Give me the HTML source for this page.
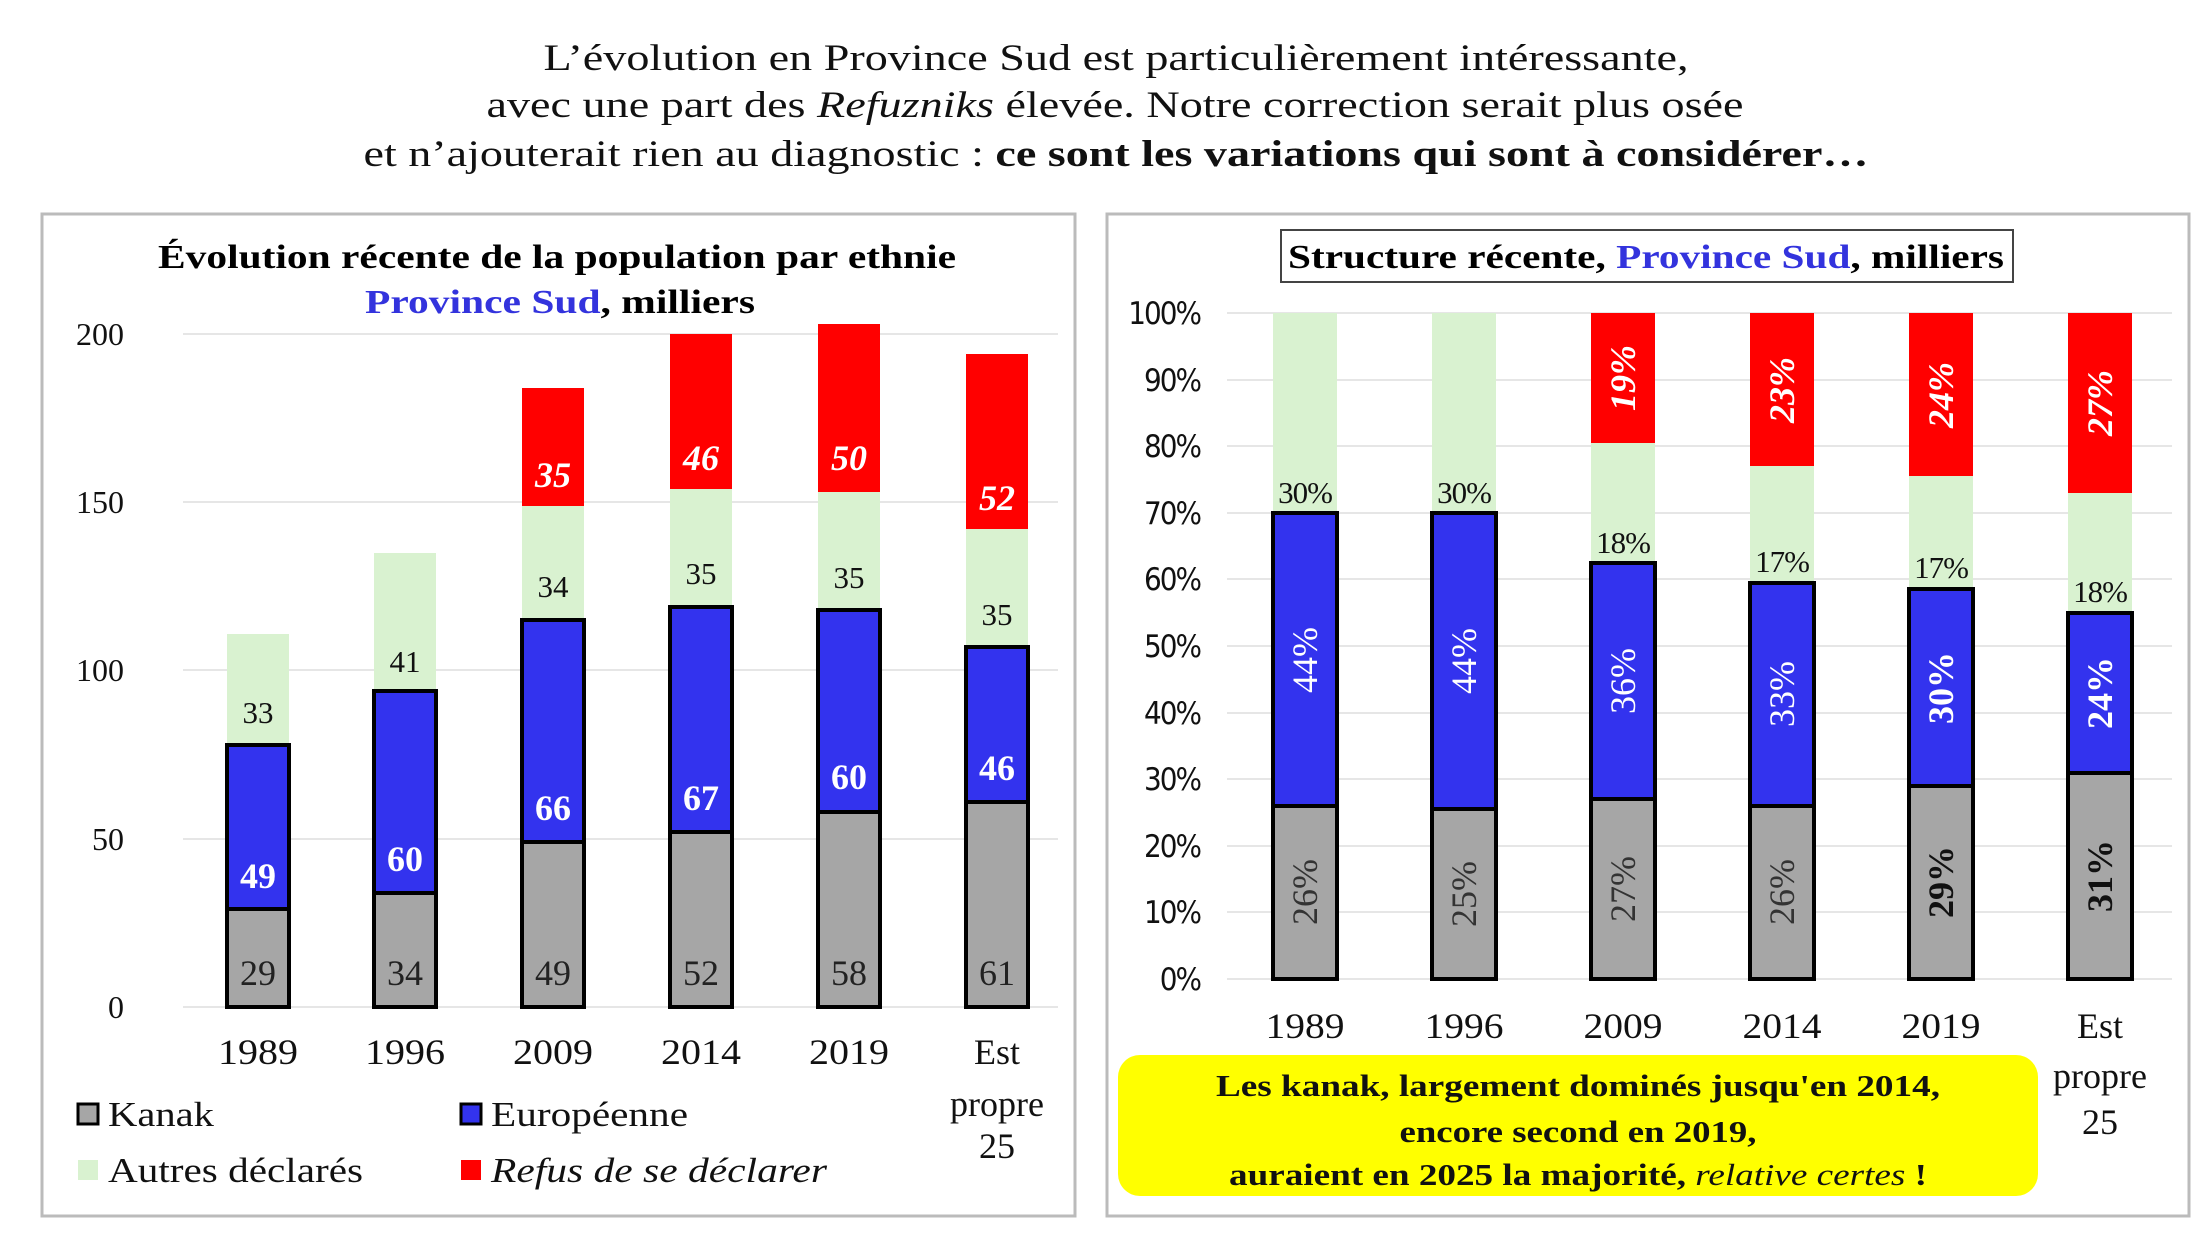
<!DOCTYPE html>
<html><head><meta charset="utf-8"><style>
html,body{margin:0;padding:0;background:#fff;}
svg{display:block;font-family:"Liberation Serif",serif;}
</style></head><body>
<svg width="2200" height="1236" viewBox="0 0 2200 1236" xmlns="http://www.w3.org/2000/svg">
<!-- header text -->
<g font-size="37" text-anchor="middle" fill="#111">
<text x="1116" y="70" textLength="1145" lengthAdjust="spacingAndGlyphs">L’évolution en Province Sud est particulièrement intéressante,</text>
<text x="1115" y="117" textLength="1257" lengthAdjust="spacingAndGlyphs">avec une part des <tspan font-style="italic">Refuzniks</tspan> élevée. Notre correction serait plus osée</text>
<text x="1116" y="166" textLength="1505" lengthAdjust="spacingAndGlyphs">et n’ajouterait rien au diagnostic : <tspan font-weight="bold">ce sont les variations qui sont à considérer…</tspan></text>
</g>
<!-- panels -->
<rect x="42" y="214" width="1033" height="1002" fill="#fff" stroke="#bbb" stroke-width="3"/>
<rect x="1107" y="214" width="1082" height="1002" fill="#fff" stroke="#bbb" stroke-width="3"/>

<!-- LEFT CHART -->
<g font-weight="bold" font-size="34" text-anchor="middle">
<text x="557" y="268" textLength="798" lengthAdjust="spacingAndGlyphs">Évolution récente de la population par ethnie</text>
<text x="560" y="313" textLength="390" lengthAdjust="spacingAndGlyphs"><tspan fill="#3333dd">Province Sud</tspan>, milliers</text>
</g>
<g stroke="#e6e6e6" stroke-width="2">
<line x1="183" x2="1058" y1="1007" y2="1007"/>
<line x1="183" x2="1058" y1="839" y2="839"/>
<line x1="183" x2="1058" y1="670" y2="670"/>
<line x1="183" x2="1058" y1="502" y2="502"/>
<line x1="183" x2="1058" y1="334" y2="334"/>
</g>
<g font-size="32" text-anchor="end" fill="#111">
<text x="124" y="1018">0</text>
<text x="124" y="850">50</text>
<text x="124" y="681">100</text>
<text x="124" y="513">150</text>
<text x="124" y="345">200</text>
</g>
<!-- bars -->
<g stroke="#000" stroke-width="4">
<rect x="227" y="909" width="62" height="98" fill="#a6a6a6"/>
<rect x="227" y="745" width="62" height="164" fill="#3333ee"/>
<rect x="374" y="893" width="62" height="114" fill="#a6a6a6"/>
<rect x="374" y="691" width="62" height="202" fill="#3333ee"/>
<rect x="522" y="842" width="62" height="165" fill="#a6a6a6"/>
<rect x="522" y="620" width="62" height="222" fill="#3333ee"/>
<rect x="670" y="832" width="62" height="175" fill="#a6a6a6"/>
<rect x="670" y="607" width="62" height="225" fill="#3333ee"/>
<rect x="818" y="812" width="62" height="195" fill="#a6a6a6"/>
<rect x="818" y="610" width="62" height="202" fill="#3333ee"/>
<rect x="966" y="802" width="62" height="205" fill="#a6a6a6"/>
<rect x="966" y="647" width="62" height="155" fill="#3333ee"/>
</g>
<g fill="#d9f2d0">
<rect x="227" y="634" width="62" height="109"/>
<rect x="374" y="553" width="62" height="136"/>
<rect x="522" y="506" width="62" height="112"/>
<rect x="670" y="489" width="62" height="116"/>
<rect x="818" y="492" width="62" height="116"/>
<rect x="966" y="529" width="62" height="116"/>
</g>
<g fill="#ff0000">
<rect x="522" y="388" width="62" height="118"/>
<rect x="670" y="334" width="62" height="155"/>
<rect x="818" y="324" width="62" height="168"/>
<rect x="966" y="354" width="62" height="175"/>
</g>
<g font-size="36" text-anchor="middle">
<g fill="#222">
<text x="258" y="985">29</text><text x="405" y="985">34</text><text x="553" y="985">49</text>
<text x="701" y="985">52</text><text x="849" y="985">58</text><text x="997" y="985">61</text>
</g>
<g fill="#fff" font-weight="bold">
<text x="258" y="888">49</text><text x="405" y="871">60</text><text x="553" y="820">66</text>
<text x="701" y="810">67</text><text x="849" y="789">60</text><text x="997" y="780">46</text>
</g>
<g fill="#111" font-size="31">
<text x="258" y="723">33</text><text x="405" y="672">41</text><text x="553" y="597">34</text>
<text x="701" y="584">35</text><text x="849" y="588">35</text><text x="997" y="625">35</text>
</g>
<g fill="#fff" font-weight="bold" font-style="italic">
<text x="553" y="487">35</text><text x="701" y="470">46</text><text x="849" y="470">50</text><text x="997" y="510">52</text>
</g>
</g>
<g font-size="36" text-anchor="middle" fill="#111">
<text x="258" y="1064" textLength="80" lengthAdjust="spacingAndGlyphs">1989</text><text x="405" y="1064" textLength="80" lengthAdjust="spacingAndGlyphs">1996</text><text x="553" y="1064" textLength="80" lengthAdjust="spacingAndGlyphs">2009</text>
<text x="701" y="1064" textLength="80" lengthAdjust="spacingAndGlyphs">2014</text><text x="849" y="1064" textLength="80" lengthAdjust="spacingAndGlyphs">2019</text>
<text x="997" y="1064">Est</text><text x="997" y="1116">propre</text><text x="997" y="1158">25</text>
</g>
<!-- legend -->
<g font-size="35" fill="#111">
<rect x="78" y="1104" width="20" height="20" fill="#a6a6a6" stroke="#000" stroke-width="3"/>
<text x="108" y="1126" textLength="106" lengthAdjust="spacingAndGlyphs">Kanak</text>
<rect x="461" y="1104" width="20" height="20" fill="#3333ee" stroke="#000" stroke-width="3"/>
<text x="491" y="1126" textLength="197" lengthAdjust="spacingAndGlyphs">Européenne</text>
<rect x="78" y="1160" width="20" height="20" fill="#d9f2d0"/>
<text x="108" y="1182" textLength="255" lengthAdjust="spacingAndGlyphs">Autres déclarés</text>
<rect x="461" y="1160" width="20" height="20" fill="#ff0000"/>
<text x="491" y="1182" font-style="italic" textLength="336" lengthAdjust="spacingAndGlyphs">Refus de se déclarer</text>
</g>

<!-- RIGHT CHART -->
<rect x="1281" y="230" width="732" height="52" fill="#fff" stroke="#444" stroke-width="2"/>
<text x="1646" y="268" font-size="34" font-weight="bold" text-anchor="middle" textLength="716" lengthAdjust="spacingAndGlyphs">Structure récente, <tspan fill="#3333dd">Province Sud</tspan>, milliers</text>
<g stroke="#e6e6e6" stroke-width="2">
<line x1="1227" x2="2172" y1="979" y2="979"/><line x1="1227" x2="2172" y1="912" y2="912"/>
<line x1="1227" x2="2172" y1="846" y2="846"/><line x1="1227" x2="2172" y1="779" y2="779"/>
<line x1="1227" x2="2172" y1="713" y2="713"/><line x1="1227" x2="2172" y1="646" y2="646"/>
<line x1="1227" x2="2172" y1="579" y2="579"/><line x1="1227" x2="2172" y1="513" y2="513"/>
<line x1="1227" x2="2172" y1="446" y2="446"/><line x1="1227" x2="2172" y1="380" y2="380"/>
<line x1="1227" x2="2172" y1="313" y2="313"/>
</g>
<g font-size="31" text-anchor="end" fill="#111" font-family="'DejaVu Sans Condensed','Liberation Sans',sans-serif" letter-spacing="-2">
<text x="1200" y="990">0%</text><text x="1200" y="923">10%</text><text x="1200" y="857">20%</text>
<text x="1200" y="790">30%</text><text x="1200" y="724">40%</text><text x="1200" y="657">50%</text>
<text x="1200" y="590">60%</text><text x="1200" y="524">70%</text><text x="1200" y="457">80%</text>
<text x="1200" y="391">90%</text><text x="1200" y="324">100%</text>
</g>
<g fill="#d9f2d0">
<rect x="1273" y="313" width="64" height="200"/>
<rect x="1432" y="313" width="64" height="200"/>
<rect x="1591" y="443" width="64" height="120"/>
<rect x="1750" y="466" width="64" height="117"/>
<rect x="1909" y="476" width="64" height="113"/>
<rect x="2068" y="493" width="64" height="120"/>
</g>
<g fill="#ff0000">
<rect x="1591" y="313" width="64" height="130"/>
<rect x="1750" y="313" width="64" height="153"/>
<rect x="1909" y="313" width="64" height="163"/>
<rect x="2068" y="313" width="64" height="180"/>
</g>
<g stroke="#000" stroke-width="4">
<rect x="1273" y="806" width="64" height="173" fill="#a6a6a6"/>
<rect x="1273" y="513" width="64" height="293" fill="#3333ee"/>
<rect x="1432" y="809" width="64" height="170" fill="#a6a6a6"/>
<rect x="1432" y="513" width="64" height="296" fill="#3333ee"/>
<rect x="1591" y="799" width="64" height="180" fill="#a6a6a6"/>
<rect x="1591" y="563" width="64" height="236" fill="#3333ee"/>
<rect x="1750" y="806" width="64" height="173" fill="#a6a6a6"/>
<rect x="1750" y="583" width="64" height="223" fill="#3333ee"/>
<rect x="1909" y="786" width="64" height="193" fill="#a6a6a6"/>
<rect x="1909" y="589" width="64" height="197" fill="#3333ee"/>
<rect x="2068" y="773" width="64" height="206" fill="#a6a6a6"/>
<rect x="2068" y="613" width="64" height="160" fill="#3333ee"/>
</g>
<g font-size="31" text-anchor="middle" fill="#111" letter-spacing="-1">
<text x="1305" y="503">30%</text><text x="1464" y="503">30%</text><text x="1623" y="553">18%</text>
<text x="1782" y="572">17%</text><text x="1941" y="578">17%</text><text x="2100" y="602">18%</text>
</g>
<g font-size="36" text-anchor="middle" dominant-baseline="central">
<g fill="#333">
<text transform="translate(1305,892) rotate(-90)">26%</text>
<text transform="translate(1464,894) rotate(-90)">25%</text>
<text transform="translate(1623,889) rotate(-90)">27%</text>
<text transform="translate(1782,892) rotate(-90)">26%</text>
<text transform="translate(1941,882) rotate(-90)" font-weight="bold" fill="#111">29%</text>
<text transform="translate(2100,876) rotate(-90)" font-weight="bold" fill="#111">31%</text>
</g>
<g fill="#fff">
<text transform="translate(1305,660) rotate(-90)">44%</text>
<text transform="translate(1464,661) rotate(-90)">44%</text>
<text transform="translate(1623,681) rotate(-90)">36%</text>
<text transform="translate(1782,694) rotate(-90)">33%</text>
<text transform="translate(1941,688) rotate(-90)" font-weight="bold">30%</text>
<text transform="translate(2100,693) rotate(-90)" font-weight="bold">24%</text>
</g>
<g fill="#fff" font-style="italic" font-weight="bold">
<text transform="translate(1623,378) rotate(-90)">19%</text>
<text transform="translate(1782,390) rotate(-90)">23%</text>
<text transform="translate(1941,395) rotate(-90)">24%</text>
<text transform="translate(2100,403) rotate(-90)">27%</text>
</g>
</g>
<g font-size="36" text-anchor="middle" fill="#111">
<text x="1305" y="1038" textLength="79" lengthAdjust="spacingAndGlyphs">1989</text><text x="1464" y="1038" textLength="79" lengthAdjust="spacingAndGlyphs">1996</text><text x="1623" y="1038" textLength="79" lengthAdjust="spacingAndGlyphs">2009</text>
<text x="1782" y="1038" textLength="79" lengthAdjust="spacingAndGlyphs">2014</text><text x="1941" y="1038" textLength="79" lengthAdjust="spacingAndGlyphs">2019</text>
<text x="2100" y="1038">Est</text><text x="2100" y="1088">propre</text><text x="2100" y="1134">25</text>
</g>
<rect x="1118" y="1055" width="920" height="141" rx="22" fill="#ffff00"/>
<g font-size="31" font-weight="bold" text-anchor="middle" fill="#111">
<text x="1578" y="1096" textLength="724" lengthAdjust="spacingAndGlyphs">Les kanak, largement dominés jusqu'en 2014,</text>
<text x="1578" y="1142" textLength="357" lengthAdjust="spacingAndGlyphs">encore second en 2019,</text>
<text x="1578" y="1185" textLength="698" lengthAdjust="spacingAndGlyphs">auraient en 2025 la majorité, <tspan font-style="italic" font-weight="normal">relative certes</tspan> !</text>
</g>
</svg>
</body></html>
